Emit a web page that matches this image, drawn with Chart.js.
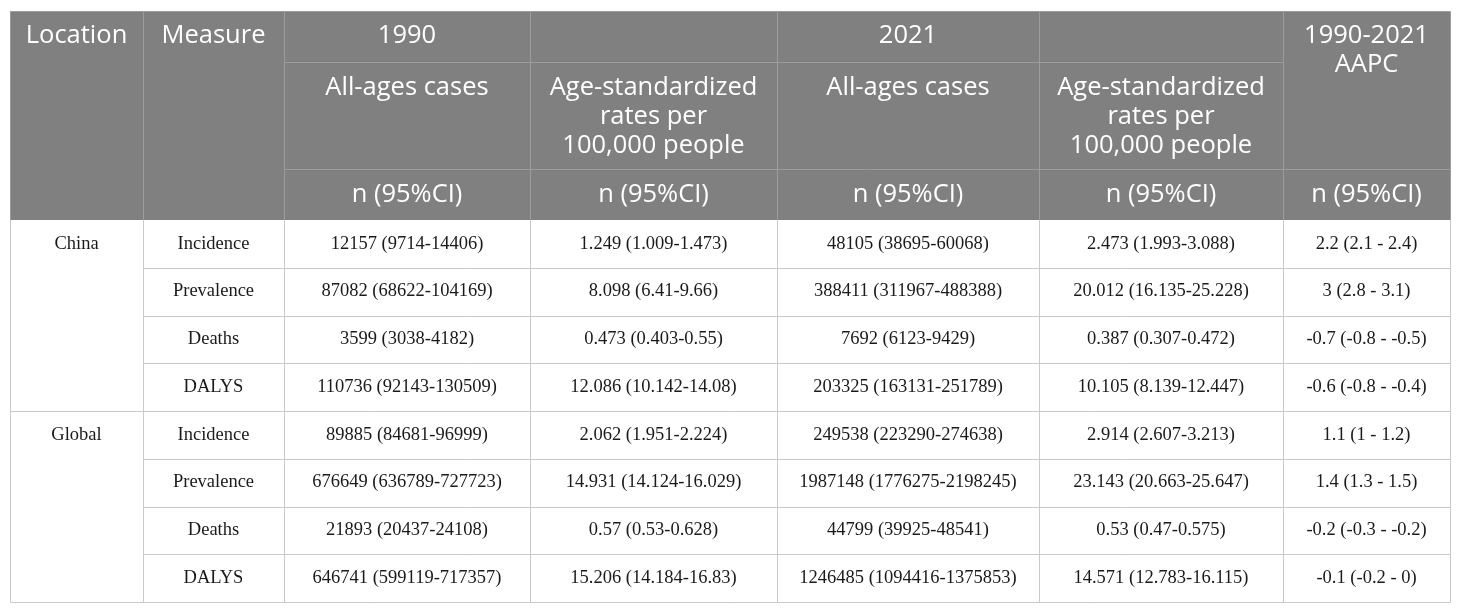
<!DOCTYPE html>
<html>
<head>
<meta charset="utf-8">
<script src="https://cdn.jsdelivr.net/npm/chart.js@4.4.1/dist/chart.umd.min.js"></script>
<style>
  html, body { margin: 0; padding: 0; background: #fff; }
  #wrap { width: 1460px; height: 613px; }
</style>
</head>
<body>
<div id="wrap"><canvas id="tableChart"></canvas></div>
<script>
// Table content
const locations = ['China', 'Global'];
const measures = ['Incidence', 'Prevalence', 'Deaths', 'DALYS'];
const headTop = ['Location', 'Measure', '1990', '', '2021', '', '1990-2021\nAAPC'];
const headMid = ['', '', 'All-ages cases', 'Age-standardized\nrates per\n100,000 people', 'All-ages cases', 'Age-standardized\nrates per\n100,000 people', ''];
const headUnit = ['', '', 'n (95%CI)', 'n (95%CI)', 'n (95%CI)', 'n (95%CI)', 'n (95%CI)'];

const cases1990 = [
  '12157 (9714-14406)', '87082 (68622-104169)', '3599 (3038-4182)', '110736 (92143-130509)',
  '89885 (84681-96999)', '676649 (636789-727723)', '21893 (20437-24108)', '646741 (599119-717357)'
];
const rate1990 = [
  '1.249 (1.009-1.473)', '8.098 (6.41-9.66)', '0.473 (0.403-0.55)', '12.086 (10.142-14.08)',
  '2.062 (1.951-2.224)', '14.931 (14.124-16.029)', '0.57 (0.53-0.628)', '15.206 (14.184-16.83)'
];
const cases2021 = [
  '48105 (38695-60068)', '388411 (311967-488388)', '7692 (6123-9429)', '203325 (163131-251789)',
  '249538 (223290-274638)', '1987148 (1776275-2198245)', '44799 (39925-48541)', '1246485 (1094416-1375853)'
];
const rate2021 = [
  '2.473 (1.993-3.088)', '20.012 (16.135-25.228)', '0.387 (0.307-0.472)', '10.105 (8.139-12.447)',
  '2.914 (2.607-3.213)', '23.143 (20.663-25.647)', '0.53 (0.47-0.575)', '14.571 (12.783-16.115)'
];
const aapc = [
  '2.2 (2.1 - 2.4)', '3 (2.8 - 3.1)', '-0.7 (-0.8 - -0.5)', '-0.6 (-0.8 - -0.4)',
  '1.1 (1 - 1.2)', '1.4 (1.3 - 1.5)', '-0.2 (-0.3 - -0.2)', '-0.1 (-0.2 - 0)'
];

// Layout of the grid in scale units
const colEdges = [10, 143, 284, 530, 777, 1039, 1283, 1450];
const headEdges = [11, 62, 169, 220];
const bodyTop = 220;
const rowHeight = 47.75;

const headFont = '25.5px "Open Sans", sans-serif';
const bodyFont = '18.5px "Liberation Serif", "Times New Roman", serif';

const tablePlugin = {
  id: 'tablePlugin',
  afterDraw(chart) {
    const ctx = chart.ctx;
    const xs = chart.scales.x, ys = chart.scales.y;
    const X = v => xs.getPixelForValue(v);
    const Y = v => ys.getPixelForValue(v);
    const nRows = locations.length * measures.length;
    const bodyBottom = bodyTop + nRows * rowHeight;

    ctx.save();
    // header background
    ctx.fillStyle = '#808080';
    ctx.fillRect(X(colEdges[0]), Y(headEdges[0]), X(colEdges[7]) - X(colEdges[0]), Y(headEdges[3]) - Y(headEdges[0]));

    function line(x1, y1, x2, y2, color) {
      ctx.strokeStyle = color;
      ctx.lineWidth = 1;
      ctx.beginPath();
      ctx.moveTo(Math.round(X(x1)) + 0.5, Math.round(Y(y1)) + 0.5);
      ctx.lineTo(Math.round(X(x2)) + 0.5, Math.round(Y(y2)) + 0.5);
      ctx.stroke();
    }

    // header grid
    const hc = '#9c9c9c';
    for (let c = 1; c < 7; c++) line(colEdges[c], headEdges[0], colEdges[c], headEdges[3], hc);
    line(colEdges[2], headEdges[1], colEdges[6], headEdges[1], hc);
    line(colEdges[2], headEdges[2], colEdges[7], headEdges[2], hc);

    // body grid
    const bc = '#c9c9c9';
    for (let c = 0; c < 8; c++) line(colEdges[c], bodyTop, colEdges[c], bodyBottom, bc);
    for (let r = 1; r < nRows; r++) {
      const y = bodyTop + r * rowHeight;
      const start = (r % measures.length === 0) ? colEdges[0] : colEdges[1];
      line(start, y, colEdges[7], y, bc);
    }
    line(colEdges[0], bodyBottom, colEdges[7], bodyBottom, bc);
    line(colEdges[0], headEdges[0], colEdges[7], headEdges[0], hc);
    line(colEdges[0], headEdges[0], colEdges[0], headEdges[3], hc);
    line(colEdges[7], headEdges[0], colEdges[7], headEdges[3], hc);

    // header text
    ctx.fillStyle = '#ffffff';
    ctx.font = headFont;
    ctx.textAlign = 'center';
    ctx.textBaseline = 'middle';
    const lh = 29;
    function multi(text, cx, y0) {
      text.split('\n').forEach((t, i) => ctx.fillText(t, X(cx), Y(y0 + i * lh)));
    }
    for (let c = 0; c < 7; c++) {
      const cx = (colEdges[c] + colEdges[c + 1]) / 2;
      if (headTop[c]) multi(headTop[c], cx, 36);
      if (headMid[c]) multi(headMid[c], cx, 88);
      if (headUnit[c]) multi(headUnit[c], cx, 195);
    }

    // body text
    ctx.fillStyle = '#1a1a1a';
    ctx.font = bodyFont;
    const cols = [null, null, cases1990, rate1990, cases2021, rate2021, aapc];
    for (let r = 0; r < nRows; r++) {
      const cy = bodyTop + (r + 0.5) * rowHeight;
      const li = Math.floor(r / measures.length);
      const mi = r % measures.length;
      if (mi === 0) ctx.fillText(locations[li], X((colEdges[0] + colEdges[1]) / 2), Y(cy));
      ctx.fillText(measures[mi], X((colEdges[1] + colEdges[2]) / 2), Y(cy));
      for (let c = 2; c < 7; c++) {
        ctx.fillText(cols[c][r], X((colEdges[c] + colEdges[c + 1]) / 2), Y(cy));
      }
    }
    ctx.restore();
  }
};

new Chart(document.getElementById('tableChart'), {
  type: 'scatter',
  data: { datasets: [{ data: [] }] },
  options: {
    responsive: true,
    maintainAspectRatio: false,
    animation: false,
    layout: { padding: 0 },
    plugins: { legend: { display: false }, tooltip: { enabled: false } },
    scales: {
      x: { type: 'linear', min: 0, max: 1460, display: false },
      y: { type: 'linear', min: 0, max: 613, reverse: true, display: false }
    }
  },
  plugins: [tablePlugin]
});
</script>
</body>
</html>
